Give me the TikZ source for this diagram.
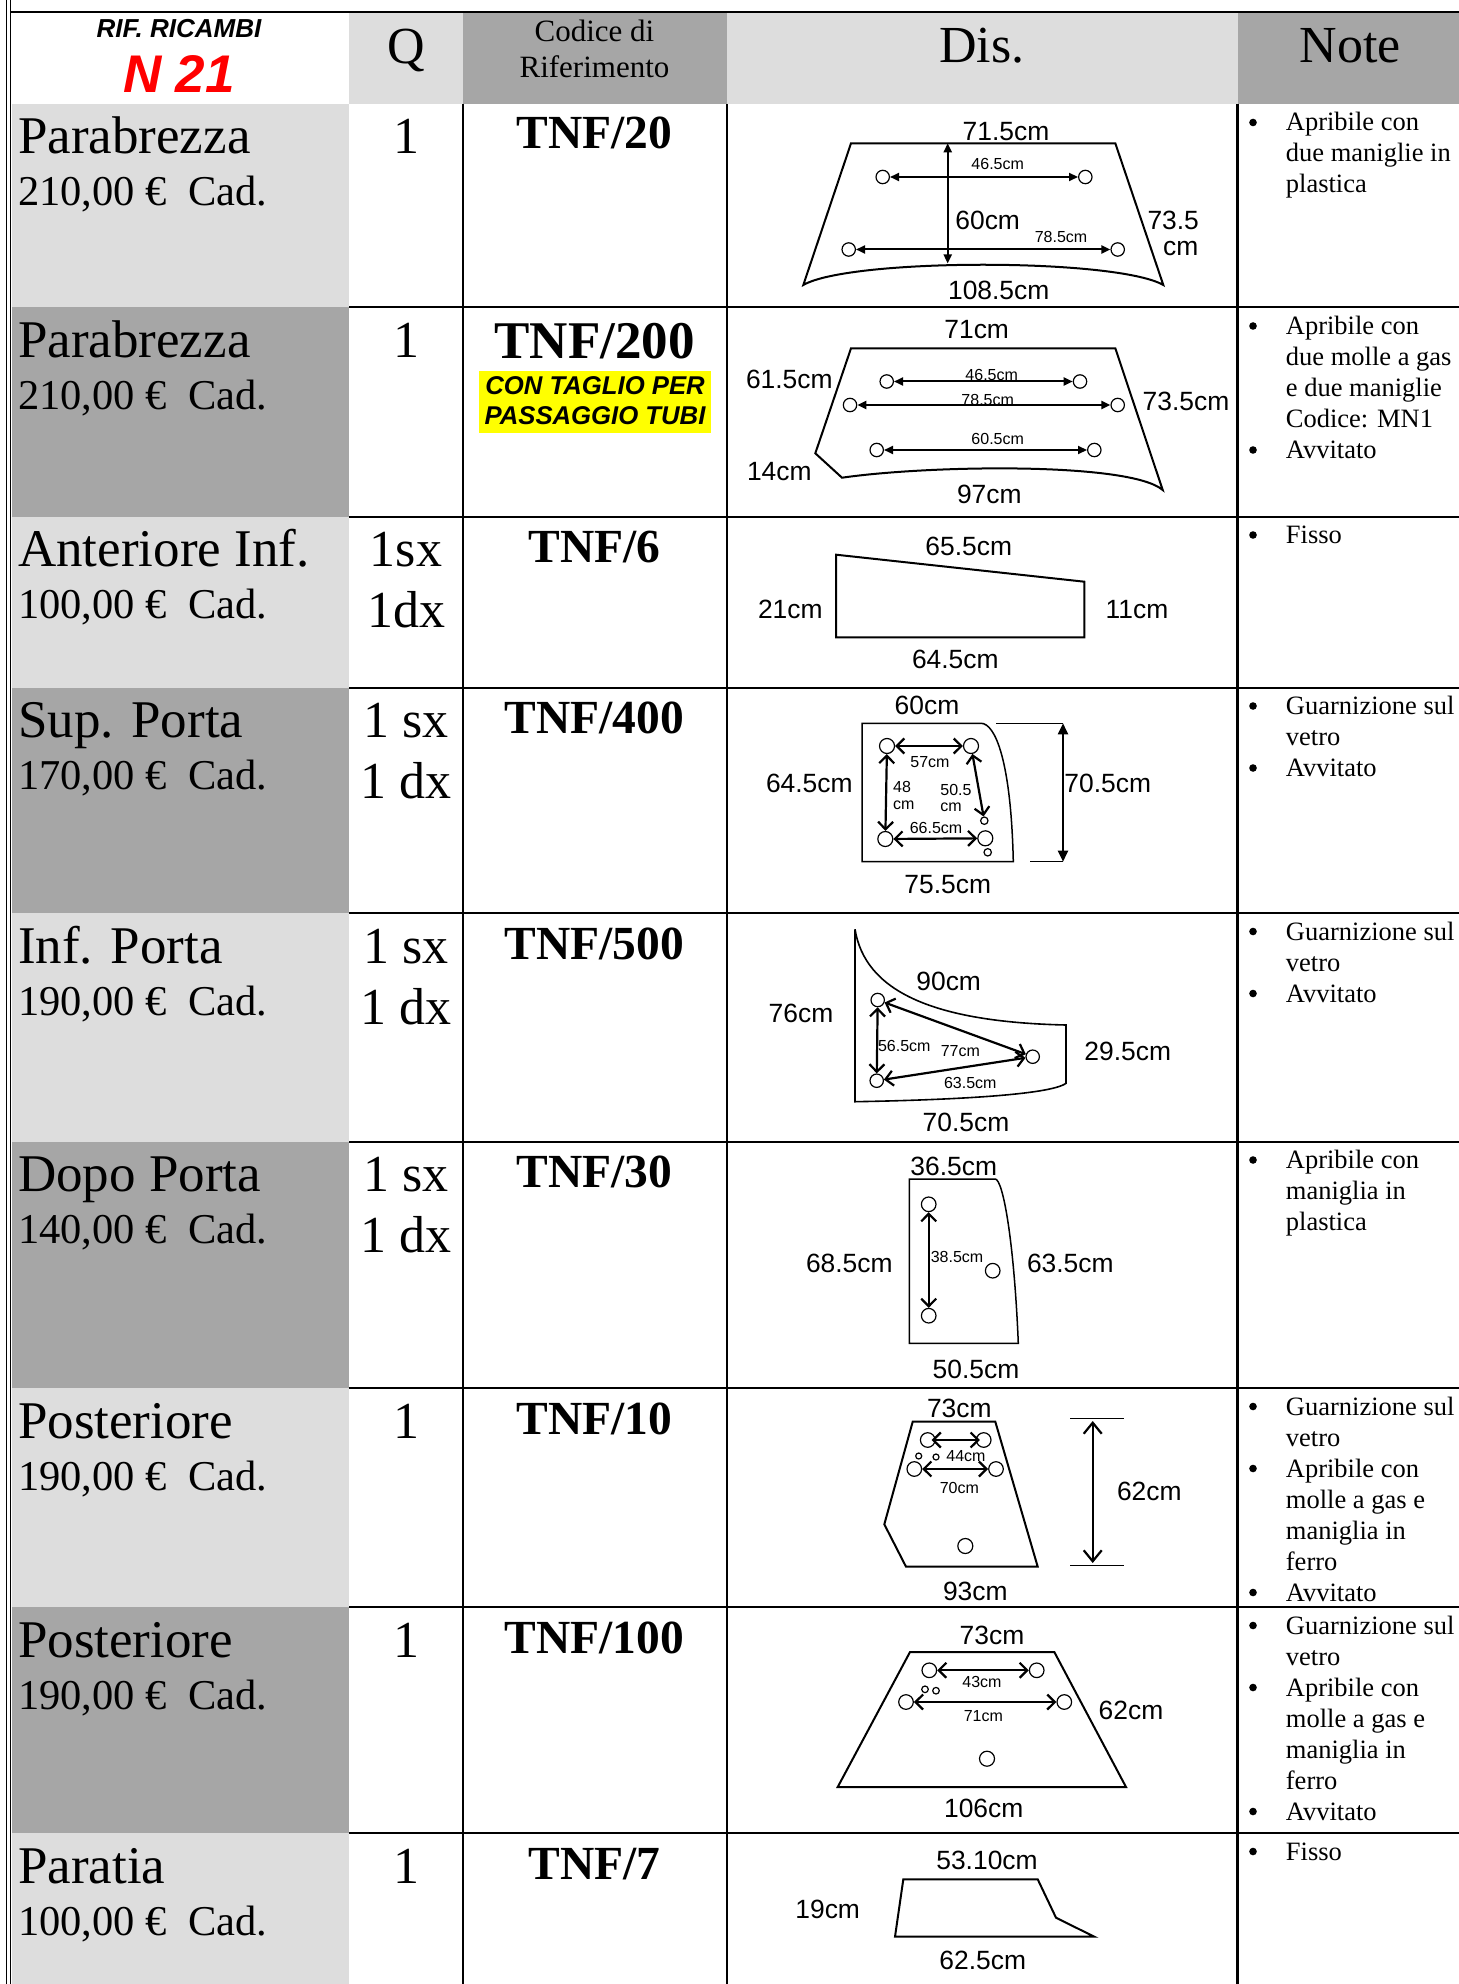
\documentclass[tikz,border=0pt]{standalone}
\usepackage{fontspec}
\setmainfont{Liberation Serif}
\newfontfamily\arialf{Liberation Sans}
\usetikzlibrary{arrows.meta}
\definecolor{lgray}{HTML}{DDDDDD}
\definecolor{dgray}{HTML}{A6A6A6}
\definecolor{hiyel}{HTML}{FFFF00}
\definecolor{nred}{HTML}{FF0000}
\newcommand{\myfs}[1]{\fontsize{#1}{#1}\selectfont}
\newcommand{\noteitem}[3]{%
  \node[bul] (#1b) at (1253,{#2-8.5}) {};
  \foreach \ntxt [count=\ni from 0] in {#3} {\node[note] (#1l\ni) at (1285.5,{#2+31*\ni}) {\ntxt};}%
}
\begin{document}
\begin{tikzpicture}[x=0.5pt,y=-0.5pt,
  part/.style={font=\myfs{26.5pt},anchor=base west,inner sep=0pt},
  price/.style={font=\myfs{21.25pt},anchor=base west,inner sep=0pt},
  qty/.style={font=\myfs{26pt},anchor=base,inner sep=0pt},
  code/.style={font=\bfseries\myfs{23.75pt},anchor=base,inner sep=0pt},
  note/.style={font=\myfs{13.25pt},anchor=base west,inner sep=0pt},
  bul/.style={circle,fill=black,inner sep=0pt,minimum size=3.8pt},
  lab/.style={font=\arialf\myfs{13.2pt},inner sep=0pt},
  slab/.style={font=\arialf\myfs{8pt},inner sep=0pt},
  hole/.style={circle,draw,line width=0.6pt,inner sep=0pt,minimum size=7pt},
  smallhole/.style={hole,minimum size=3.4pt},
  partline/.style={line width=1pt,line join=miter},
  thinline/.style={line width=0.75pt},
  tablerule/.style={line width=1pt},
  farr/.style={line width=1pt,{Triangle[length=4.5pt,width=4pt]}-{Triangle[length=4.5pt,width=4pt]}},
  fdim/.style={line width=1pt,{Triangle[length=5.5pt,width=5pt]}-{Triangle[length=5.5pt,width=5pt]}},
  varr/.style={line width=1.1pt,{Straight Barb[length=3.8pt,width=7.5pt]}-{Straight Barb[length=3.8pt,width=7.5pt]}},
  vdim/.style={line width=1.1pt,{Straight Barb[length=5.5pt,width=9pt]}-{Straight Barb[length=5.5pt,width=9pt]}},
  dimtick/.style={line width=0.5pt}
]
\useasboundingbox (0,0) rectangle (1459,1984);
% ---------- fills
\fill[lgray] (349,13) rectangle (463,104);
\fill[dgray] (463,13) rectangle (727,104);
\fill[lgray] (727,13) rectangle (1237.5,104);
\fill[dgray] (1237.5,13) rectangle (1459,104);
\foreach \ya/\yb/\cc in {104/307.5/lgray,307.5/516.5/dgray,516.5/687.5/lgray,687.5/913/dgray,913/1141.5/lgray,1141.5/1388/dgray,1388/1607/lgray,1607/1833/dgray,1833/1984/lgray}
  \fill[\cc] (12,\ya) rectangle (349,\yb);
\fill[hiyel] (479,371) rectangle (711,433);
% ---------- table rules
\draw[line width=0.6pt] (6.5,0) -- (6.5,1984);
\draw[line width=0.6pt] (10.5,0) -- (10.5,1984);
\draw[line width=1.2pt] (10.5,12) -- (1459,12);
\draw[tablerule] (463,104) -- (463,1984);
\draw[tablerule] (727,104) -- (727,1984);
\draw[line width=1.3pt] (1237.5,104) -- (1237.5,1984);
\foreach \yy in {307.5,516.5,687.5,913,1141.5,1388,1607,1833}
  \draw[tablerule] (349,\yy) -- (1459,\yy);
% ---------- header
\node[font=\arialf\bfseries\itshape\myfs{13pt},anchor=base,inner sep=0pt] (rif) at (179,37.3) {RIF. RICAMBI};
\node[font=\arialf\bfseries\itshape\myfs{26.5pt},text=nred,anchor=base,inner sep=0pt] (n21) at (179,93) {N 21};
\node[qty] (hq) at (406,63.3) {Q};
\node[font=\myfs{15.5pt},anchor=base,inner sep=0pt] (hc1) at (594.5,41.7) {Codice di};
\node[font=\myfs{15.5pt},anchor=base,inner sep=0pt] (hc2) at (594.5,77.3) {Riferimento};
\node[qty] (hd) at (982,62.7) {Dis.};
\node[qty] (hn) at (1350,62.7) {Note};
% ---------- column 1
\node[part] (p1) at (17.7,154) {Parabrezza};
\node[price] (c1) at (17.7,206) {210,00 €~ Cad.};
\node[part] (p2) at (17.7,357.5) {Parabrezza};
\node[price] (c2) at (17.7,409.5) {210,00 €~ Cad.};
\node[part] (p3) at (17.7,566.5) {Anteriore Inf.};
\node[price] (c3) at (17.7,618.5) {100,00 €~ Cad.};
\node[part] (p4) at (17.7,737.5) {Sup. Porta};
\node[price] (c4) at (17.7,789.5) {170,00 €~ Cad.};
\node[part] (p5) at (17.7,963) {Inf. Porta};
\node[price] (c5) at (17.7,1015) {190,00 €~ Cad.};
\node[part] (p6) at (17.7,1191.5) {Dopo Porta};
\node[price] (c6) at (17.7,1243.5) {140,00 €~ Cad.};
\node[part] (p7) at (17.7,1438) {Posteriore};
\node[price] (c7) at (17.7,1490) {190,00 €~ Cad.};
\node[part] (p8) at (17.7,1657) {Posteriore};
\node[price] (c8) at (17.7,1709) {190,00 €~ Cad.};
\node[part] (p9) at (17.7,1883) {Paratia};
\node[price] (c9) at (17.7,1935) {100,00 €~ Cad.};
% ---------- Q
\node[qty] (q1) at (406,154) {1};
\node[qty] (q2) at (406,357.5) {1};
\node[qty] (q3a) at (406,566.5) {1sx};
\node[qty] (q3b) at (406,627.5) {1dx};
\node[qty] (q4a) at (406,737.5) {1 sx};
\node[qty] (q4b) at (406,798.5) {1 dx};
\node[qty] (q5a) at (406,963) {1 sx};
\node[qty] (q5b) at (406,1024) {1 dx};
\node[qty] (q6a) at (406,1191.5) {1 sx};
\node[qty] (q6b) at (406,1252.5) {1 dx};
\node[qty] (q7) at (406,1438) {1};
\node[qty] (q8) at (406,1657) {1};
\node[qty] (q9) at (406,1883) {1};
% ---------- codes
\node[code] (k1) at (594.5,149) {TNF/20};
\node[code,font=\bfseries\myfs{26.5pt}] (k2) at (594.5,358.3) {TNF/200};
\node[font=\arialf\bfseries\itshape\myfs{12.85pt},anchor=base,inner sep=0pt] (k2a) at (595,395) {CON TAGLIO PER};
\node[font=\arialf\bfseries\itshape\myfs{12.85pt},anchor=base,inner sep=0pt] (k2b) at (595,425) {PASSAGGIO TUBI};
\node[code] (k3) at (594.5,562.5) {TNF/6};
\node[code] (k4) at (594.5,733.5) {TNF/400};
\node[code] (k5) at (594.5,959) {TNF/500};
\node[code] (k6) at (594.5,1187.5) {TNF/30};
\node[code] (k7) at (594.5,1434) {TNF/10};
\node[code] (k8) at (594.5,1653) {TNF/100};
\node[code] (k9) at (594.5,1879) {TNF/7};
% ---------- notes
\noteitem{na}{131}{Apribile con,due maniglie in,plastica}
\noteitem{nb}{334.5}{Apribile con,due molle a gas,e due maniglie,Codice: MN1}
\noteitem{nc}{458.5}{Avvitato}
\noteitem{nd}{543.5}{Fisso}
\noteitem{ne}{714.5}{Guarnizione sul,vetro}
\noteitem{nf}{776.5}{Avvitato}
\noteitem{ng}{940}{Guarnizione sul,vetro}
\noteitem{nh}{1002}{Avvitato}
\noteitem{ni}{1168.5}{Apribile con,maniglia in,plastica}
\noteitem{nj}{1415}{Guarnizione sul,vetro}
\noteitem{nk}{1477}{Apribile con,molle a gas e,maniglia in,ferro}
\noteitem{nl}{1601}{Avvitato}
\noteitem{nm}{1634}{Guarnizione sul,vetro}
\noteitem{nn}{1696}{Apribile con,molle a gas e,maniglia in,ferro}
\noteitem{no}{1820}{Avvitato}
\noteitem{np}{1860}{Fisso}
% ========== Drawing 1 (TNF/20)
\draw[partline] (851,143.3) -- (1115.3,143.3) -- (1163.3,285) .. controls (1116,258) and (850,258) .. (803.3,285) -- cycle;
\node[hole,minimum size=6.7pt] (h1a) at (882.7,177) {};
\node[hole,minimum size=6.7pt] (h1b) at (1085.3,177) {};
\node[hole,minimum size=6.7pt] (h1c) at (848.7,249.5) {};
\node[hole,minimum size=6.7pt] (h1d) at (1117.7,249.5) {};
\draw[farr] (h1a) -- (h1b);
\draw[farr] (h1c) -- (h1d);
\coordinate (v1t) at (947.7,143.3);
\coordinate (v1b) at (947.7,263.5);
\draw[farr] (v1t) -- (v1b);
\node[lab] (l1a) at (1006,131.7) {71.5cm};
\node[slab] (l1b) at (997.7,164) {46.5cm};
\node[lab] (l1c) at (987.7,220) {60cm};
\node[slab] (l1d) at (1061,236.7) {78.5cm};
\node[lab,anchor=east] (l1e) at (1199.3,220) {73.5};
\node[lab,anchor=east] (l1f) at (1198.7,249) {cm};
\node[lab] (l1g) at (998.7,290) {108.5cm};
% ========== Drawing 2 (TNF/200)
\draw[partline] (851,348.3) -- (1115.3,348.3) -- (1162.7,490) .. controls (1130,462) and (930,465) .. (842,477.7) -- (815.3,453.3) -- cycle;
\node[hole,minimum size=6.7pt] (h2a) at (886.7,381.5) {};
\node[hole,minimum size=6.7pt] (h2b) at (1080,381.5) {};
\node[hole,minimum size=6.7pt] (h2c) at (850,405) {};
\node[hole,minimum size=6.7pt] (h2d) at (1117.7,405) {};
\node[hole,minimum size=6.7pt] (h2e) at (876.7,450) {};
\node[hole,minimum size=6.7pt] (h2f) at (1094.3,450) {};
\draw[farr] (h2a) -- (h2b);
\draw[farr] (h2c) -- (h2d);
\draw[farr] (h2e) -- (h2f);
\node[lab] (l2a) at (976.7,330) {71cm};
\node[slab] (l2b) at (991.7,375) {46.5cm};
\node[slab] (l2c) at (987.7,400) {78.5cm};
\node[slab] (l2d) at (997.7,439.3) {60.5cm};
\node[lab] (l2e) at (789.3,379) {61.5cm};
\node[lab] (l2f) at (1186,401) {73.5cm};
\node[lab] (l2g) at (779.3,471.7) {14cm};
\node[lab] (l2h) at (989.3,494.3) {97cm};
% ========== Drawing 3 (TNF/6)
\draw[partline] (836,554.7) -- (1084.3,581.7) -- (1084.3,637.3) -- (836,637.3) -- cycle;
\node[lab] (l3a) at (968.7,546.3) {65.5cm};
\node[lab] (l3b) at (790.3,609.7) {21cm};
\node[lab] (l3c) at (1137,609.7) {11cm};
\node[lab] (l3d) at (955.3,659.7) {64.5cm};
% ========== Drawing 4 (TNF/400)
\draw[thinline] (862,723.3) -- (981,723.3) .. controls (995,723.3) and (1011,760) .. (1013.3,861.7) -- (862,861.7) -- cycle;
\draw[dimtick] (996,723.3) -- (1063,723.3);
\draw[dimtick] (1030,861.7) -- (1063,861.7);
\coordinate (d4t) at (1063,723.3);
\coordinate (d4b) at (1063,861.7);
\draw[fdim] (d4t) -- (d4b);
\node[hole,minimum size=7.5pt] (h4a) at (887,746) {};
\node[hole,minimum size=7.5pt] (h4b) at (971,746) {};
\node[hole,minimum size=7.5pt] (h4c) at (885.3,839) {};
\node[hole,minimum size=7.5pt] (h4d) at (985.3,838.3) {};
\node[smallhole,minimum size=3.7pt] (h4e) at (984.3,820.7) {};
\node[smallhole,minimum size=3.7pt] (h4f) at (987.7,852.3) {};
\draw[varr] (h4a) -- (h4b);
\draw[varr] (h4a) -- (h4c);
\draw[varr] (h4c) -- (h4d);
\draw[varr] (h4b) -- (h4e);
\node[lab] (l4a) at (927,705) {60cm};
\node[lab] (l4b) at (809.3,783.3) {64.5cm};
\node[lab] (l4c) at (1107.7,783.3) {70.5cm};
\node[lab] (l4d) at (947.7,885) {75.5cm};
\node[slab] (l4e) at (930,761.7) {57cm};
\node[slab,anchor=west] (l4f) at (892.7,786.7) {48};
\node[slab,anchor=west] (l4g) at (892.7,805) {cm};
\node[slab,anchor=west] (l4h) at (940,790) {50.5};
\node[slab,anchor=west] (l4i) at (940,807.3) {cm};
\node[slab] (l4j) at (936,828.3) {66.5cm};
% ========== Drawing 5 (TNF/500)
\draw[line width=0.8pt] (855,929.3) .. controls (865,990) and (930,1022) .. (1066,1025) -- (1066,1083.3) .. controls (1050,1095) and (950,1100) .. (855,1101.7) -- cycle;
\node[hole,minimum size=6.7pt] (h5a) at (877.7,1000) {};
\node[hole,minimum size=6.7pt] (h5b) at (1032.7,1056.7) {};
\node[hole,minimum size=6.7pt] (h5c) at (876.7,1080.7) {};
\draw[varr] (h5a) -- (h5c);
\draw[varr] (h5a) -- (h5b);
\draw[varr] (h5b) -- (h5c);
\node[lab] (l5a) at (948.7,981.7) {90cm};
\node[lab] (l5b) at (801,1013.3) {76cm};
\node[lab] (l5c) at (1127.7,1051.7) {29.5cm};
\node[lab] (l5d) at (966,1122.3) {70.5cm};
\node[slab] (l5e) at (904.3,1046) {56.5cm};
\node[slab] (l5f) at (960.3,1051) {77cm};
\node[slab] (l5g) at (970.3,1082.7) {63.5cm};
% ========== Drawing 6 (TNF/30)
\draw[thinline] (909.3,1179) -- (995.3,1179) .. controls (1003,1180) and (1014,1240) .. (1018.3,1343.3) -- (909.3,1343.3) -- cycle;
\node[hole,minimum size=7.3pt] (h6a) at (928.7,1204.3) {};
\node[hole,minimum size=7.3pt] (h6b) at (928.7,1315.7) {};
\node[hole,minimum size=7.3pt] (h6c) at (992.7,1270.7) {};
\draw[varr] (h6a) -- (h6b);
\node[lab] (l6a) at (953.7,1166) {36.5cm};
\node[lab] (l6b) at (849.3,1263.3) {68.5cm};
\node[lab] (l6c) at (1070.3,1263.3) {63.5cm};
\node[lab] (l6d) at (976,1369.3) {50.5cm};
\node[slab] (l6e) at (957,1256.7) {38.5cm};
% ========== Drawing 7 (TNF/10)
\draw[partline] (912.7,1421.7) -- (995.3,1421.7) -- (1037.7,1566.7) -- (906,1566.7) -- (884.3,1524.3) -- cycle;
\node[hole,minimum size=7.3pt] (h7a) at (927.7,1440) {};
\node[hole,minimum size=7.3pt] (h7b) at (983.7,1440) {};
\node[hole,minimum size=7.3pt] (h7c) at (914.3,1469) {};
\node[hole,minimum size=7.3pt] (h7d) at (996,1469) {};
\node[smallhole,minimum size=3pt] (h7e) at (918.7,1456) {};
\node[smallhole,minimum size=3pt] (h7f) at (936,1457) {};
\node[hole,minimum size=7.5pt] (h7g) at (965.3,1546) {};
\draw[varr,shorten <=-2pt,shorten >=-2pt] (h7a) -- (h7b);
\draw[varr] (h7c) -- (h7d);
\draw[dimtick] (1070,1418.3) -- (1124.3,1418.3);
\draw[dimtick] (1070,1565.7) -- (1124.3,1565.7);
\coordinate (d7t) at (1092.7,1421);
\coordinate (d7b) at (1092.7,1563);
\draw[vdim] (d7t) -- (d7b);
\node[lab] (l7a) at (959.3,1408.3) {73cm};
\node[lab] (l7b) at (1149.3,1491) {62cm};
\node[lab] (l7c) at (975.3,1591) {93cm};
\node[slab] (l7d) at (966,1455.7) {44cm};
\node[slab] (l7e) at (959.3,1488.3) {70cm};
% ========== Drawing 8 (TNF/100)
\draw[partline] (910,1652) -- (1054.3,1652) -- (1126,1787) -- (837.7,1787) -- cycle;
\node[hole,minimum size=7.3pt] (h8a) at (929.3,1670.3) {};
\node[hole,minimum size=7.3pt] (h8b) at (1036.7,1670.3) {};
\node[hole,minimum size=7.3pt] (h8c) at (906,1702) {};
\node[hole,minimum size=7.3pt] (h8d) at (1064.3,1702) {};
\node[smallhole,minimum size=3.3pt] (h8e) at (925,1689.3) {};
\node[smallhole,minimum size=3.3pt] (h8f) at (936,1690.7) {};
\node[hole,minimum size=7.5pt] (h8g) at (987,1758.7) {};
\draw[varr] (h8a) -- (h8b);
\draw[varr] (h8c) -- (h8d);
\node[lab] (l8a) at (992,1635.3) {73cm};
\node[lab] (l8b) at (1131,1710.7) {62cm};
\node[lab] (l8c) at (983.7,1808) {106cm};
\node[slab] (l8d) at (982,1682) {43cm};
\node[slab] (l8e) at (983.3,1716.3) {71cm};
% ========== Drawing 9 (TNF/7)
\draw[partline] (903.3,1879.3) -- (1037.7,1879.3) -- (1056,1917.7) -- (1094.3,1936.7) -- (895,1936.7) -- cycle;
\node[lab] (l9a) at (987,1860.7) {53.10cm};
\node[lab] (l9b) at (827.7,1909) {19cm};
\node[lab] (l9c) at (982.7,1960.7) {62.5cm};
\end{tikzpicture}
\end{document}
